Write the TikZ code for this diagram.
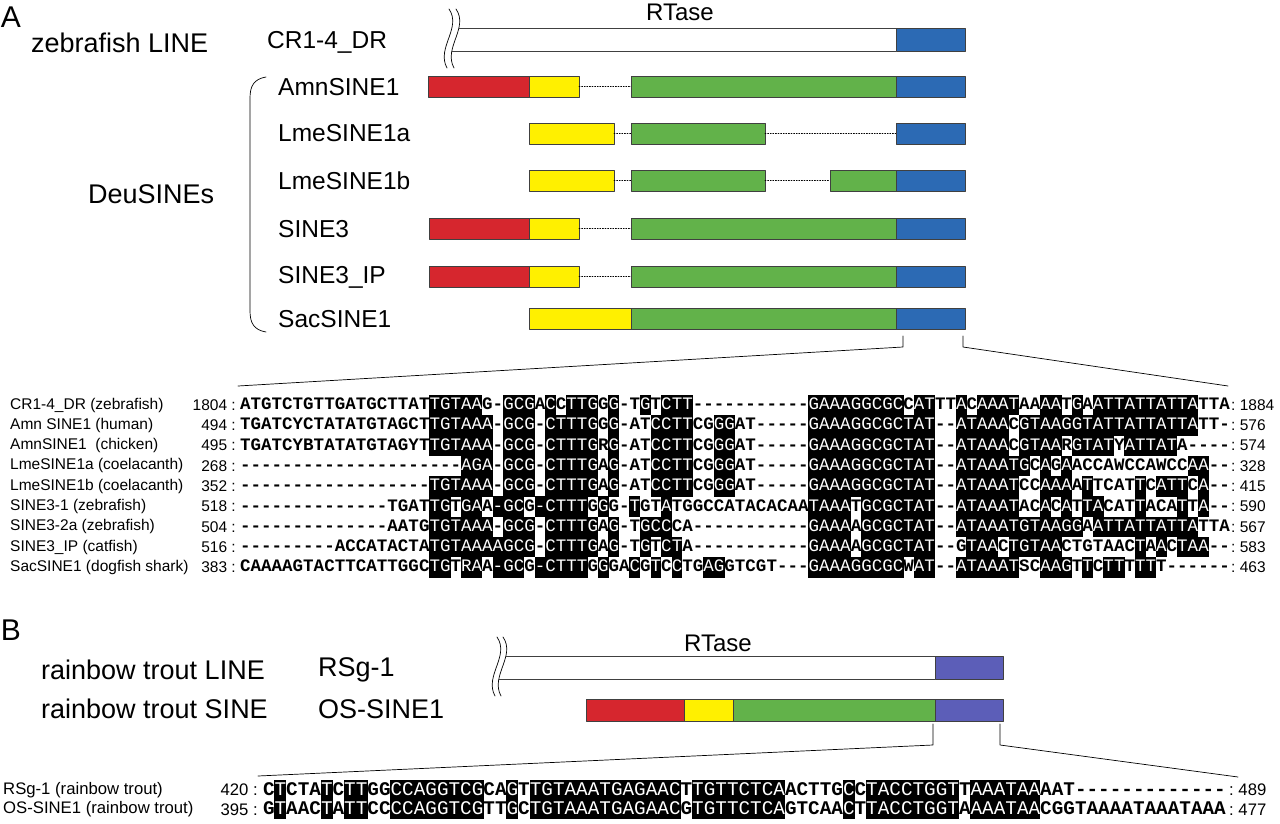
\documentclass[tikz,border=0pt]{standalone}
\usepackage{fontspec}
\setmainfont{Liberation Sans}
\setmonofont{Liberation Mono}

\definecolor{redbox}{RGB}{214,38,46}
\definecolor{yellowbox}{RGB}{255,240,0}
\definecolor{greenbox}{RGB}{98,178,74}
\definecolor{bluebox}{RGB}{44,106,180}
\definecolor{violetbox}{RGB}{92,94,184}

\newcommand\fntbig{\fontsize{27}{30}\selectfont}
\newcommand\fntmid{\fontsize{24.5}{27}\selectfont}
\newcommand\fntaln{\fontsize{15.5}{17}\selectfont}
\newcommand\fntalnb{\fontsize{16.7}{18}\selectfont}

% one alignment row: name, y, residues, shading mask (1 = black box)
\newcounter{alncol}
\newcommand\alnrow[4]{%
  \setcounter{alncol}{0}\def\alnname{#1}\def\alny{#2}%
  \alnstep#3\relax#4\relax}
\def\alnstep#1#2\relax#3#4\relax{%
  \stepcounter{alncol}%
  \node[res#3] (\alnname-\arabic{alncol}) at ({\alnx+(\arabic{alncol}-0.5)*\alnw},\alny) {#1};%
  \ifx\relax#2\relax\else\alnstep#2\relax#4\relax\fi}

\begin{document}
\begin{tikzpicture}[x=1pt,y=-1pt,line cap=round,line join=round,
    seg/.style={draw=black!75,line width=0.6pt},
    dotline/.style={line width=0.7pt,dash pattern=on 1pt off 1.6pt},
    zoomline/.style={line width=0.7pt},
    lbl/.style={anchor=west,inner sep=0pt},
    res0/.style={inner sep=0pt,outer sep=0pt,minimum width={\alnw+0.35},minimum height=\alnh,
      text height=\alnth,text depth=2pt,font=\alnfont,text=black},
    res1/.style={res0,fill=black,text=white,font=\alnfont\mdseries}]
\useasboundingbox (0,0) rectangle (1280,824);

%Panel A
\node[inner sep=0pt,font=\fontsize{30}{32}\selectfont] (pA) at (11,17) {A};
\node[inner sep=0pt,font=\fontsize{24}{26}\selectfont] (rtA) at (680,12) {RTase};
\node[lbl,font=\fntbig] (zfline) at (31,43) {zebrafish LINE};
\node[lbl,font=\fntmid] (cr) at (267,42) {CR1-4\_DR};
\node[lbl,font=\fntbig] (deu) at (88,194) {DeuSINEs};
\foreach \nm/\yy [count=\i] in {AmnSINE1/87,LmeSINE1a/133,LmeSINE1b/181,SINE3/229,SINE3\_IP/277,SacSINE1/319}
  \node[lbl,font=\fntmid] (sA\i) at (278,\yy) {\nm};

%LINE
\draw[zoomline] (449,9) .. controls (462,28) and (436,48) .. (447,68);
\draw[zoomline] (456,9) .. controls (469,28) and (443,48) .. (454,68);
\draw[seg] (459,28) -- (896,28);
\draw[seg] (452,51) -- (896,51);
\filldraw[seg,fill=bluebox] (896,28) rectangle (965,51);

%brace
\draw[zoomline] (266,77) .. controls (254,79) and (250,86) .. (250,98) -- (250,311) .. controls (250,323) and (254,330) .. (266,332);

%AmnSINE1
\filldraw[seg,fill=redbox] (428,76) rectangle (529,97);
\filldraw[seg,fill=yellowbox] (529,76) rectangle (579,97);
\draw[dotline] (579,86.5) -- (631,86.5);
\filldraw[seg,fill=greenbox] (631,76) rectangle (896,97);
\filldraw[seg,fill=bluebox] (896,76) rectangle (965,97);
%LmeSINE1a
\filldraw[seg,fill=yellowbox] (529,123) rectangle (614,144);
\draw[dotline] (614,133.5) -- (631,133.5);
\filldraw[seg,fill=greenbox] (631,123) rectangle (765,144);
\draw[dotline] (765,133.5) -- (896,133.5);
\filldraw[seg,fill=bluebox] (896,123) rectangle (965,144);
%LmeSINE1b
\filldraw[seg,fill=yellowbox] (529,170) rectangle (614,191);
\draw[dotline] (614,180.5) -- (631,180.5);
\filldraw[seg,fill=greenbox] (631,170) rectangle (765,191);
\draw[dotline] (765,180.5) -- (830,180.5);
\filldraw[seg,fill=greenbox] (830,170) rectangle (896,191);
\filldraw[seg,fill=bluebox] (896,170) rectangle (965,191);
%SINE3 and SINE3_IP
\foreach \yy in {218,266}{
  \filldraw[seg,fill=redbox] (429,\yy) rectangle (529,\yy+21);
  \filldraw[seg,fill=yellowbox] (529,\yy) rectangle (579,\yy+21);
  \draw[dotline] (579,\yy+10.5) -- (631,\yy+10.5);
  \filldraw[seg,fill=greenbox] (631,\yy) rectangle (896,\yy+21);
  \filldraw[seg,fill=bluebox] (896,\yy) rectangle (965,\yy+21);
}
%SacSINE1
\filldraw[seg,fill=yellowbox] (529,308) rectangle (631,329);
\filldraw[seg,fill=greenbox] (631,308) rectangle (896,329);
\filldraw[seg,fill=bluebox] (896,308) rectangle (965,329);

%zoom lines A
\coordinate (zaL) at (903,336);
\coordinate (zaLk) at (903,347);
\coordinate (zaLe) at (238,386);
\coordinate (zaR) at (963,336);
\coordinate (zaRk) at (963,347);
\coordinate (zaRe) at (1228,386);
\draw[zoomline] (zaL) -- (zaLk) -- (zaLe);
\draw[zoomline] (zaR) -- (zaRk) -- (zaRe);

%alignment A
\foreach \nm/\lf/\rt [count=\i] in {CR1-4\_DR (zebrafish)/1804/1884,Amn SINE1 (human)/494/576,AmnSINE1\ \ (chicken)/495/574,LmeSINE1a (coelacanth)/268/328,LmeSINE1b (coelacanth)/352/415,SINE3-1 (zebrafish)/518/590,SINE3-2a (zebrafish)/504/567,SINE3\_IP (catfish)/516/583,SacSINE1 (dogfish shark)/383/463}{
  \node[lbl,font=\fntaln] (nmA\i) at (10,{405+(\i-1)*20.3}) {\nm};
  \node[inner sep=0pt,anchor=east,font=\fntaln] (lfA\i) at (236,{405+(\i-1)*20.3}) {\lf\ :};
  \node[lbl,font=\fntaln] (rtA\i) at (1231,{405+(\i-1)*20.3}) {:\ \rt};
}
\def\alnx{240}\def\alnw{10.53}\def\alnh{20.6}\def\alnth{11pt}
\def\alnfont{\fontsize{17.5}{18}\selectfont\ttfamily\bfseries}
\alnrow{a1}{405}{ATGTCTGTTGATGCTTATTGTAAG-GCGACCTTGGG-TGTCTT-----------GAAAGGCGCCATTTACAAATAAAATGAATTATTATTATTA}{00000000000000000011111001110101110100101110000000000011111111101100101111001101011111111110000000}
\alnrow{a2}{425.3}{TGATCYCTATATGTAGCTTGTAAA-GCG-CTTTGGG-ATCCTTCGGGAT-----GAAAGGCGCTAT--ATAAACGTAAGGTATTATTATTATT-}{00000000000000000011111101110111110100011110011000000011111111111100111110111111111111111110000000}
\alnrow{a3}{445.6}{TGATCYBTATATGTAGYTTGTAAA-GCG-CTTTGRG-ATCCTTCGGGAT-----GAAAGGCGCTAT--ATAAACGTAARGTATYATTATA----}{00000000000000000011111101110111110100011110011000000011111111111100111110111101111011111000000000}
\alnrow{a4}{465.9}{---------------------AGA-GCG-CTTTGAG-ATCCTTCGGGAT-----GAAAGGCGCTAT--ATAAATGCAGAACCAWCCAWCCAA--}{00000000000000000000011101110111110100011110011000000011111111111100111111101010000000000011000000}
\alnrow{a5}{486.2}{------------------TGTAAA-GCG-CTTTGAG-ATCCTTCGGGAT-----GAAAGGCGCTAT--ATAAATCCAAAATTCATTCATTCA--}{00000000000000000011111101110111110100011110011000000011111111111100111111001110100001011101000000}
\alnrow{a6}{506.5}{--------------TGATTGTGAA-GCG-CTTTGGG-TGTATGGCCATACACAATAAATGCGCTAT--ATAAATACACATTACATTACATTA--}{00000000000000000011011011101111101001001000000000000011110111111100111111001010110001000101000000}
\alnrow{a7}{526.8}{--------------AATGTGTAAA-GCG-CTTTGAG-TGCCCA-----------GAAAAGCGCTAT--ATAAATGTAAGGAATTATTATTATTA}{00000000000000000011111101110111110100111000000000000011110111111100111111111111011111111110000000}
\alnrow{a8}{547.1}{---------ACCATACTATGTAAAAGCG-CTTTGAG-TGTCTA-----------GAAAAGCGCTAT--GTAACTGTAACTGTAACTAACTAA--}{00000000000000000011111111110111110100101100000000000011110111111100011101111100000001010111000000}
\alnrow{a9}{567.4}{CAAAAGTACTTCATTGGCTGTRAA-GCG-CTTTGGGACGTCCTGAGGTCGT---GAAAGGCGCWAT--ATAAATSCAAGTTCTTTTTT------}{00000000000000000011011011101111101001010100110000000011111111101100111111001110101101100000000000}

%Panel B
\node[inner sep=0pt,font=\fontsize{30}{32}\selectfont] (pB) at (11,630) {B};
\node[inner sep=0pt,font=\fontsize{24}{26}\selectfont] (rtB) at (718,643) {RTase};
\node[lbl,font=\fntbig] (rtl) at (41,670) {rainbow trout LINE};
\node[lbl,font=\fntbig] (rts) at (41,709) {rainbow trout SINE};
\node[lbl,font=\fntbig] (rsg) at (318,670) {RSg-1};
\node[lbl,font=\fntbig] (oss) at (318,709) {OS-SINE1};

%LINE
\draw[zoomline] (497,637) .. controls (510,656) and (484,676) .. (495,696);
\draw[zoomline] (503,637) .. controls (516,656) and (490,676) .. (501,696);
\draw[seg] (506,656) -- (935,656);
\draw[seg] (499,679) -- (935,679);
\filldraw[seg,fill=violetbox] (935,656) rectangle (1003,679);
%SINE
\filldraw[seg,fill=redbox] (586,699) rectangle (684,721);
\filldraw[seg,fill=yellowbox] (684,699) rectangle (733,721);
\filldraw[seg,fill=greenbox] (733,699) rectangle (935,721);
\filldraw[seg,fill=violetbox] (935,699) rectangle (1003,721);

%zoom lines B
\coordinate (zbL) at (933,724);
\coordinate (zbLk) at (933,745);
\coordinate (zbLe) at (258,776);
\coordinate (zbR) at (1000,724);
\coordinate (zbRk) at (1000,745);
\coordinate (zbRe) at (1238,777);
\draw[zoomline] (zbL) -- (zbLk) -- (zbLe);
\draw[zoomline] (zbR) -- (zbRk) -- (zbRe);

%alignment B
\foreach \nm/\lf/\rt/\yy [count=\i] in {RSg-1 (rainbow trout)/420/489/790,OS-SINE1 (rainbow trout)/395/477/809.5}{
  \node[lbl,font=\fntalnb] (nmB\i) at (3,\yy) {\nm};
  \node[inner sep=0pt,anchor=east,font=\fntalnb] (lfB\i) at (258,\yy) {\lf\ :};
  \node[lbl,font=\fntalnb] (rtB\i) at (1229,\yy) {:\ \rt};
}
\def\alnx{263}\def\alnw{11.6}\def\alnh{19.5}\def\alnth{12pt}
\def\alnfont{\fontsize{19.3}{20}\selectfont\ttfamily\bfseries}
\alnrow{b1}{790}{CTCTATCTTGGCCAGGTCGCAGTTGTAAATGAGAACTTGTTCTCAACTTGCCTACCTGGTTAAATAAAAT-------------}{01000101100111111110010111111111111101111111100000101111111101111110000000000000000000000}
\alnrow{b2}{809.5}{GTAACTATTCCCCAGGTCGTTGCTGTAAATGAGAACGTGTTCTCAGTCAACTTACCTGGTAAAATAACGGTAAAATAAATAAA}{01000101100111111110010111111111111101111111100000101111111101111110000000000000000000000}
\end{tikzpicture}
\end{document}
